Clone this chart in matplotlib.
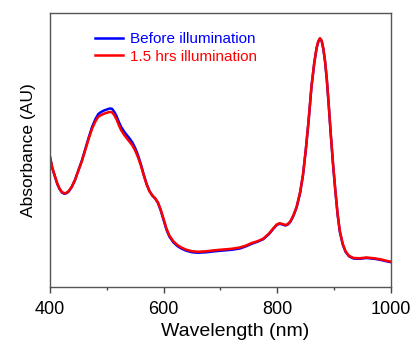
import numpy as np
import matplotlib
matplotlib.use("Agg")
import matplotlib.pyplot as plt
from matplotlib.ticker import MultipleLocator

plt.rcParams['font.family'] = ['Liberation Sans', 'DejaVu Sans']

# wavelength (nm) and absorbance
wl = [400, 404, 409, 413, 417, 421, 425, 429, 433, 438, 444, 450, 456, 462,
      468, 474, 480, 485, 490, 495, 500, 505, 509, 513, 517, 521, 525, 530,
      535, 540, 545, 550, 555, 560, 565, 570, 575, 580, 585, 590, 595, 600,
      605, 610, 617, 624, 631, 640, 650, 660, 675, 690, 705, 720, 734, 745,
      755, 765, 775, 785, 793, 799, 804, 809, 814, 818, 823, 828, 834, 840,
      845, 850, 855, 860, 865, 869, 872, 875, 878, 881, 884, 887, 890, 894,
      898, 902, 906, 910, 915, 920, 926, 934, 945, 957, 970, 981, 990, 1000]

after = [0.533, 0.490, 0.453, 0.425, 0.405, 0.392, 0.387, 0.389, 0.396, 0.412,
         0.440, 0.478, 0.515, 0.560, 0.605, 0.645, 0.675, 0.693, 0.700, 0.705,
         0.709, 0.712, 0.711, 0.700, 0.683, 0.660, 0.640, 0.622, 0.607, 0.593,
         0.578, 0.557, 0.530, 0.497, 0.458, 0.422, 0.395, 0.378, 0.367, 0.350,
         0.320, 0.283, 0.245, 0.218, 0.195, 0.180, 0.170, 0.161, 0.155, 0.153,
         0.155, 0.159, 0.162, 0.165, 0.170, 0.178, 0.188, 0.195, 0.205, 0.225,
         0.247, 0.262, 0.267, 0.264, 0.260, 0.263, 0.275, 0.297, 0.333, 0.390,
         0.459, 0.560, 0.678, 0.813, 0.910, 0.968, 0.995, 1.007, 0.998, 0.965,
         0.915, 0.845, 0.755, 0.625, 0.505, 0.400, 0.305, 0.235, 0.185, 0.155,
         0.137, 0.128, 0.127, 0.130, 0.127, 0.123, 0.118, 0.113]

before = [0.531, 0.488, 0.451, 0.423, 0.403, 0.390, 0.385, 0.387, 0.394, 0.411,
          0.440, 0.479, 0.517, 0.563, 0.609, 0.652, 0.684, 0.704, 0.712, 0.718,
          0.722, 0.726, 0.725, 0.713, 0.696, 0.673, 0.653, 0.635, 0.620, 0.606,
          0.590, 0.567, 0.538, 0.502, 0.461, 0.424, 0.396, 0.378, 0.366, 0.348,
          0.317, 0.279, 0.241, 0.214, 0.191, 0.176, 0.166, 0.157, 0.151, 0.149,
          0.151, 0.155, 0.158, 0.161, 0.166, 0.175, 0.185, 0.193, 0.203, 0.223,
          0.245, 0.260, 0.265, 0.262, 0.258, 0.261, 0.273, 0.295, 0.331, 0.388,
          0.457, 0.558, 0.676, 0.811, 0.908, 0.966, 0.993, 1.005, 0.996, 0.963,
          0.913, 0.843, 0.753, 0.623, 0.503, 0.398, 0.303, 0.233, 0.183, 0.153,
          0.135, 0.126, 0.125, 0.128, 0.125, 0.121, 0.116, 0.111]

labels = ["Before illumination", "1.5 hrs illumination"]
colors = ["#0000ff", "#ff0000"]

fig = plt.figure(figsize=(4.14, 3.41), dpi=100)
ax = fig.add_axes([50/414, 1-287/341, 341/414, 274/341])

ax.plot(wl, before, color=colors[0], lw=1.8, label=labels[0])
ax.plot(wl, after, color=colors[1], lw=1.8, label=labels[1])

ax.set_xlim(400, 1000)
ax.set_ylim(0.012, 1.108)
ax.xaxis.set_major_locator(MultipleLocator(200))
ax.xaxis.set_minor_locator(MultipleLocator(100))
ax.set_yticks([])
ax.tick_params(axis='x', which='major', direction='out', length=4, width=1,
               labelsize=13, pad=6, color='#444444')
ax.tick_params(axis='x', which='minor', direction='out', length=2.5, width=1,
               color='#444444')
for s in ax.spines.values():
    s.set_color('#555555')
    s.set_linewidth(1)

ax.set_xlabel("Wavelength (nm)", fontsize=14)
ax.xaxis.set_label_coords((235-50)/341, -(332-287)/274)
ax.xaxis.label.set_va('center')
ax.set_ylabel("Absorbance (AU)", fontsize=12.5, labelpad=10)

leg = ax.legend(loc='upper left', bbox_to_anchor=(95/414, 1-32/341),
                bbox_transform=fig.transFigure, frameon=False, fontsize=11,
                handlelength=1.85, handletextpad=0.45, labelspacing=0.25,
                borderpad=0, borderaxespad=0)
for t, c in zip(leg.get_texts(), colors):
    t.set_color(c)

fig.savefig("out.png", dpi=100)
